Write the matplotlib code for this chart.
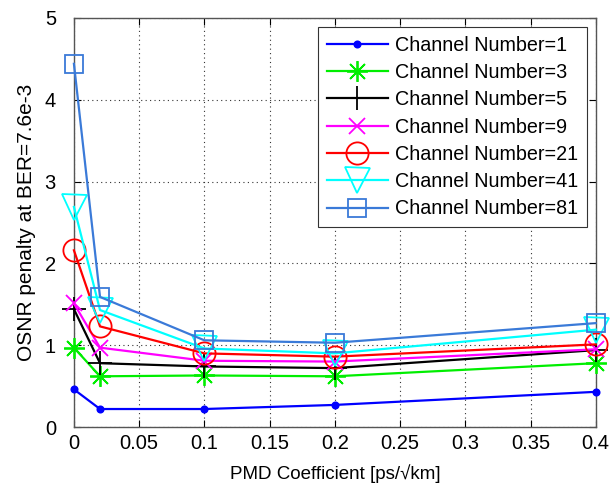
import matplotlib
matplotlib.use("Agg")
import matplotlib.pyplot as plt
import numpy as np

plt.rcParams['font.family'] = ['Liberation Sans', 'DejaVu Sans']

pmd = [0, 0.02, 0.1, 0.2, 0.4]
ch1 = [0.46, 0.22, 0.22, 0.27, 0.43]
ch3 = [0.97, 0.62, 0.63, 0.62, 0.78]
ch5 = [1.44, 0.78, 0.74, 0.72, 0.94]
ch9 = [1.51, 0.97, 0.81, 0.80, 0.95]
ch21 = [2.16, 1.23, 0.90, 0.86, 1.01]
ch41 = [2.69, 1.43, 0.96, 0.90, 1.19]
ch81 = [4.44, 1.59, 1.06, 1.03, 1.27]
labels = ['Channel Number=1', 'Channel Number=3', 'Channel Number=5',
          'Channel Number=9', 'Channel Number=21', 'Channel Number=41',
          'Channel Number=81']

fig = plt.figure(figsize=(6.11, 4.94), dpi=100)
ax = fig.add_axes([0.121, 0.1356, 0.854, 0.828])

# MATLAB-like markers
styles = [
    (ch1, '#0000ff', '.', 9),
    (ch3, '#00ee00', (8, 2, 0), 15),
    (ch5, '#000000', '+', 17),
    (ch9, '#ff00ff', 'x', 11),
    (ch21, '#ff0000', 'o', 16),
    (ch41, '#00ffff', 'v', 18),
    (ch81, '#3a7ad8', 's', 13),
]
for (ys, c, m, ms), lab in zip(styles, labels):
    mfc = c if m == '.' else 'none'
    ax.plot(pmd, ys, color=c, marker=m, markersize=ms, markerfacecolor=mfc,
            markeredgecolor=c, markeredgewidth=1.3, linewidth=1.6, label=lab,
            clip_on=False, zorder=3)

ax.set_xlim(0, 0.4)
ax.set_ylim(0, 5)
ax.set_xticks(np.arange(0, 0.41, 0.05))
ax.set_xticklabels(['0', '0.05', '0.1', '0.15', '0.2', '0.25', '0.3', '0.35', '0.4'])
ax.set_yticks([0, 1, 2, 3, 4, 5])
ax.grid(True, color='#333333', linestyle=(0, (1, 3)), linewidth=0.8)
ax.tick_params(direction='in', labelsize=14.5, length=5, top=True, right=True)
ax.tick_params(axis='x', pad=5)
ax.tick_params(axis='y', pad=13)
for s in ax.spines.values():
    s.set_color('#555555')
    s.set_linewidth(1.0)

ax.set_xlabel('PMD Coefficient [ps/\u221akm]', fontsize=13.5, labelpad=8)
ax.set_ylabel('OSNR penalty at BER=7.6e-3', fontsize=15, labelpad=6)

leg = ax.legend(loc='upper right', fontsize=14.2, handlelength=3.1,
                borderaxespad=0.45, fancybox=False, framealpha=1,
                labelspacing=0.42, handletextpad=0.35, borderpad=0.45)
leg.get_frame().set_edgecolor('#333333')
leg.get_frame().set_linewidth(0.8)
leg.set_zorder(5)

fig.savefig('out.png', dpi=100)
